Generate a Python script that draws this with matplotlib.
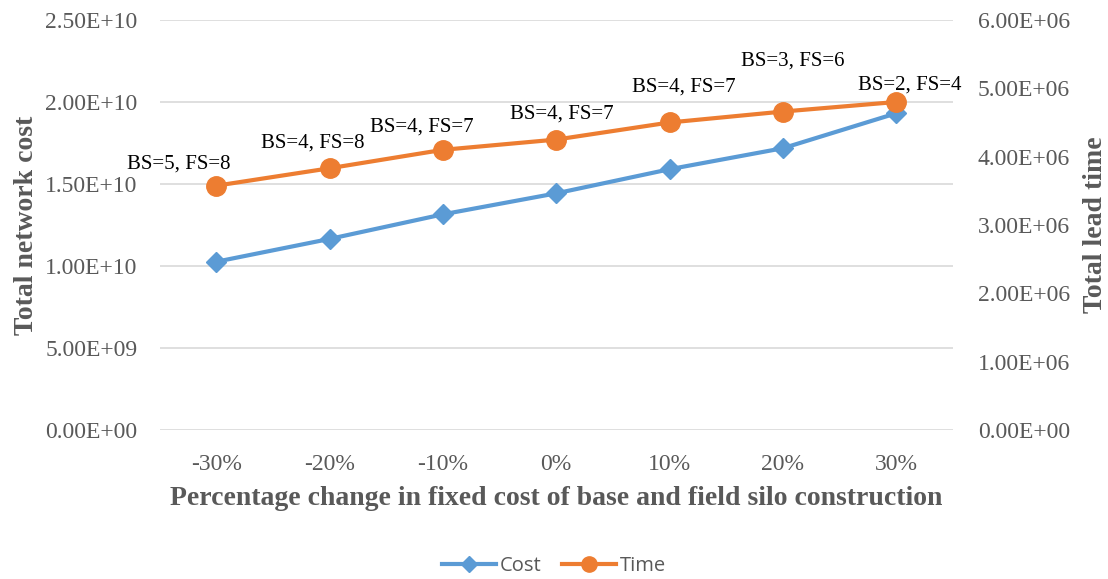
import matplotlib.pyplot as plt
from matplotlib.ticker import FuncFormatter

plt.rcParams['font.family'] = ['Liberation Serif', 'DejaVu Serif']

cats = ['-30%', '-20%', '-10%', '0%', '10%', '20%', '30%']
cost = [1.026e10, 1.165e10, 1.315e10, 1.443e10, 1.59e10, 1.718e10, 1.931e10]
time = [3.575e6, 3.83e6, 4.10e6, 4.25e6, 4.50e6, 4.66e6, 4.80e6]
labels = ['BS=5, FS=8', 'BS=4, FS=8', 'BS=4, FS=7', 'BS=4, FS=7',
          'BS=4, FS=7', 'BS=3, FS=6', 'BS=2, FS=4']

# manual label offsets (points), like the dragged labels in the original
offs = [(-27, 8.5), (-12, 11.5), (-15, 9.5), (4, 11.5), (10, 18.5), (7, 29.5), (10, 5.5)]

grey = '#595959'
blue = '#5B9BD5'
orange = '#ED7D31'

fig = plt.figure(figsize=(11.08, 5.79), dpi=100)
ax = fig.add_axes([0.144, 0.2573, 0.716, 0.7082])
ax2 = ax.twinx()

x = range(len(cats))
ax.plot(x, cost, color=blue, lw=3, marker='D', ms=10, zorder=3)
ax2.plot(x, time, color=orange, lw=3, marker='o', ms=14, zorder=3)

ax.set_xlim(-0.5, len(cats) - 0.5)
ax.set_ylim(0, 2.5e10)
ax.set_yticks([i * 5e9 for i in range(6)])
ax2.set_ylim(0, 6e6)
ax2.set_yticks([i * 1e6 for i in range(7)])

fmt = FuncFormatter(lambda v, p: '%.2E' % v)
ax.yaxis.set_major_formatter(fmt)
ax2.yaxis.set_major_formatter(fmt)

ax.set_xticks(list(x))
ax.set_xticklabels(cats)
ax.grid(axis='y', color='#D9D9D9', lw=1.2)
ax.set_axisbelow(True)

for a in (ax, ax2):
    for s in a.spines.values():
        s.set_visible(False)
    a.tick_params(length=0, colors=grey, labelsize=17)
ax.tick_params(axis='x', pad=17)
ax.tick_params(axis='y', pad=16)
ax2.tick_params(axis='y', pad=18)

ax.set_xlabel('Percentage change in fixed cost of base and field silo construction',
              fontsize=20, fontweight='bold', color=grey, labelpad=8)
ax.set_ylabel('Total network cost', fontsize=20, fontweight='bold', color=grey, labelpad=4)
ax2.set_ylabel('Total lead time', fontsize=20, fontweight='bold', color=grey, labelpad=9)

for i, (t, lab) in enumerate(zip(time, labels)):
    ax2.annotate(lab, (i, t), xytext=offs[i], textcoords='offset points',
                 ha='center', va='bottom', fontsize=15, color='black')

h1, = ax.plot([], [], color=blue, lw=3, marker='D', ms=8)
h2, = ax.plot([], [], color=orange, lw=3, marker='o', ms=11)
fig.legend([h1, h2], ['Cost', 'Time'], loc='center', bbox_to_anchor=(0.5, 0.022),
           ncol=2, frameon=False, prop={'family': 'Open Sans', 'size': 14.5},
           labelcolor=grey, handlelength=2.7, columnspacing=1.0, handletextpad=0.2)

plt.savefig('out.png', dpi=100)
